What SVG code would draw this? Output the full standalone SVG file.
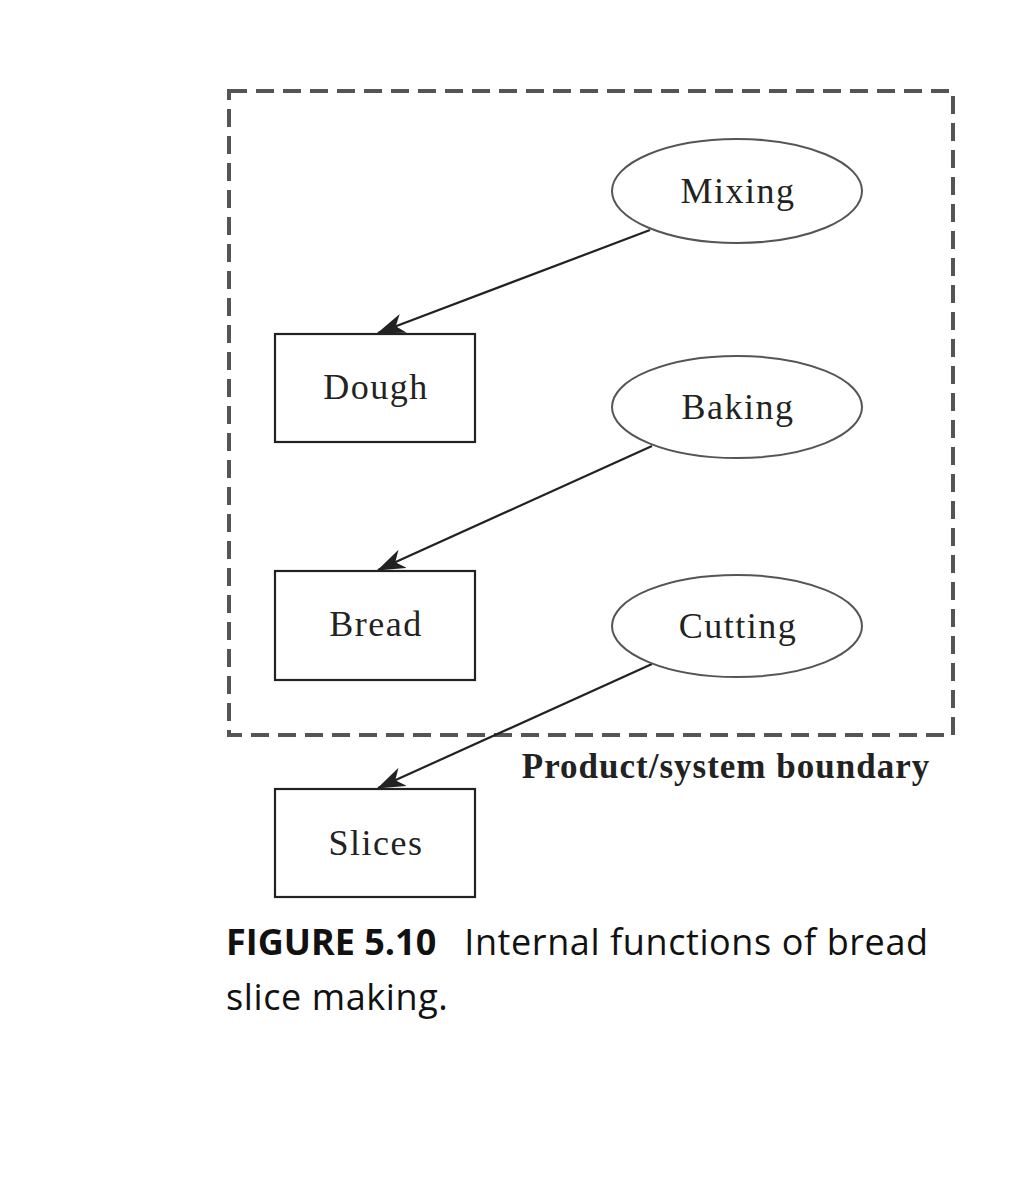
<svg xmlns="http://www.w3.org/2000/svg" width="1034" height="1200" viewBox="0 0 1034 1200">
<style>
.box{fill:#fff;stroke:#222;stroke-width:2.2}
.ell{fill:#fff;stroke:#555;stroke-width:2}
.lbl{font-family:"Liberation Serif",serif;font-size:36px;letter-spacing:1.5px;fill:#222;text-anchor:middle}
.edge{stroke:#222;stroke-width:2.2;fill:none}
.cap{font-family:"Open Sans","Noto Sans",sans-serif;font-size:36px;fill:#111}
</style>
<defs>
<marker id="arr" viewBox="0 0 28 20" refX="27" refY="10" markerWidth="28" markerHeight="20" markerUnits="userSpaceOnUse" orient="auto">
<path d="M0,0 L28,10 L0,20 L8,10 Z" fill="#222"/>
</marker>
</defs>
<rect id="boundary" x="229" y="91" width="724" height="644" fill="none" stroke="#555" stroke-width="4" stroke-dasharray="18,9"/>
<text x="726" y="778" font-family="Liberation Serif,serif" font-weight="bold" font-size="35" letter-spacing="1" fill="#222" text-anchor="middle">Product/system boundary</text>
<g id="connectors">
<line class="edge" x1="650" y1="230" x2="378" y2="333" marker-end="url(#arr)"/>
<line class="edge" x1="652" y1="446" x2="378" y2="570" marker-end="url(#arr)"/>
<line class="edge" x1="652" y1="664" x2="378" y2="788" marker-end="url(#arr)"/>
</g>
<g id="mixing"><ellipse class="ell" cx="737" cy="191" rx="125" ry="52"/><text class="lbl" x="738" y="203">Mixing</text></g>
<g id="baking"><ellipse class="ell" cx="737" cy="407" rx="125" ry="51"/><text class="lbl" x="738" y="419">Baking</text></g>
<g id="cutting"><ellipse class="ell" cx="737" cy="626" rx="125" ry="51"/><text class="lbl" x="738" y="638">Cutting</text></g>
<g id="dough"><rect class="box" x="275" y="334" width="200" height="108"/><text class="lbl" x="376" y="399">Dough</text></g>
<g id="bread"><rect class="box" x="275" y="571" width="200" height="109"/><text class="lbl" x="376" y="636">Bread</text></g>
<g id="slices"><rect class="box" x="275" y="789" width="200" height="108"/><text class="lbl" x="376" y="855">Slices</text></g>
<text class="cap" x="226" y="955"><tspan font-weight="bold">FIGURE 5.10</tspan><tspan dx="28" letter-spacing="0.6">Internal functions of bread</tspan></text>
<text class="cap" x="226" y="1010" letter-spacing="0.6">slice making.</text>
</svg>
